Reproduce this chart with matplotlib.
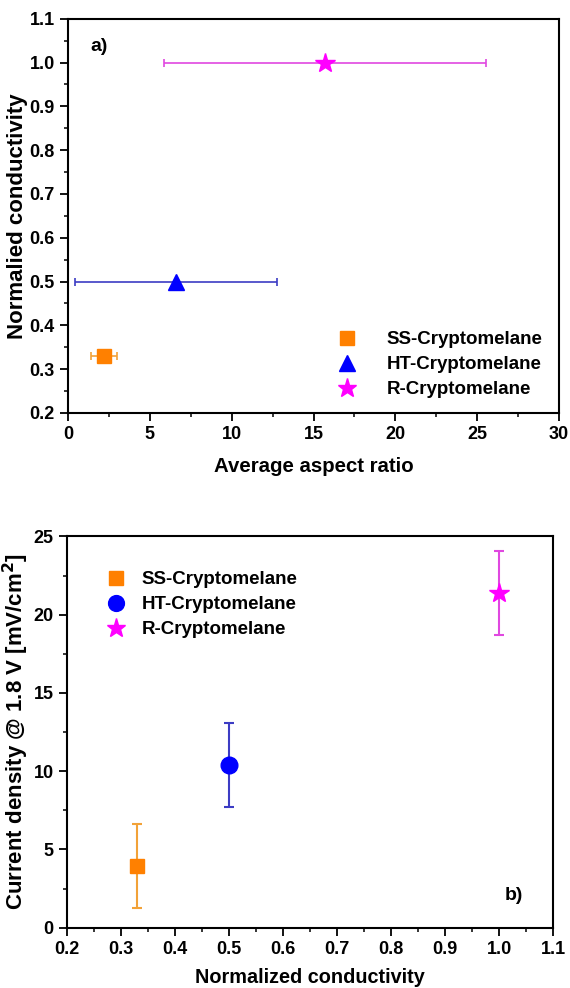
import numpy as np
import matplotlib.pyplot as plt
from matplotlib.ticker import MultipleLocator

plt.rcParams['font.family'] = ['Liberation Sans', 'DejaVu Sans']
plt.rcParams['font.weight'] = 'bold'

# --- data ---
names = ["SS-Cryptomelane", "HT-Cryptomelane", "R-Cryptomelane"]
colors = ["#FF8000", "#0000FF", "#FF00FF"]
err_colors = ["#F2A238", "#3C3CC4", "#E048E0"]

# panel a) aspect ratio vs normalised conductivity
aspect = [2.2, 6.6, 15.7]
aspect_err = [0.8, 6.15, 9.85]
cond = [0.33, 0.50, 1.00]
markers_a = ["s", "^", "*"]

# panel b) normalised conductivity vs current density
cond_b = [0.33, 0.50, 1.00]
current = [3.95, 10.4, 21.4]
current_err = [2.7, 2.7, 2.7]
markers_b = ["s", "o", "*"]

fig = plt.figure(figsize=(5.7, 9.88), dpi=100)
ax1 = fig.add_axes([0.119, 0.582, 0.862, 0.399])
ax2 = fig.add_axes([0.1175, 0.061, 0.853, 0.396])

msz = {"s": 10, "^": 12, "o": 12, "*": 15}

for i in range(3):
    ax1.errorbar(aspect[i], cond[i], xerr=aspect_err[i], fmt='none',
                 ecolor=err_colors[i], elinewidth=1.2, capsize=3, capthick=1.2)
    ax1.plot(aspect[i], cond[i], marker=markers_a[i], ls='none',
             color=colors[i], ms=msz[markers_a[i]], label=names[i])

    ax2.errorbar(cond_b[i], current[i], yerr=current_err[i], fmt='none',
                 ecolor=err_colors[i], elinewidth=1.5, capsize=3.5, capthick=1.5)
    ax2.plot(cond_b[i], current[i], marker=markers_b[i], ls='none',
             color=colors[i], ms=msz[markers_b[i]], label=names[i])

ax1.set_xlim(0, 30)
ax1.set_ylim(0.2, 1.1)
ax1.xaxis.set_major_locator(MultipleLocator(5))
ax1.xaxis.set_minor_locator(MultipleLocator(2.5))
ax1.yaxis.set_major_locator(MultipleLocator(0.1))
ax1.yaxis.set_minor_locator(MultipleLocator(0.05))
ax1.set_xlabel("Average aspect ratio", fontsize=14.7, fontweight='bold', labelpad=10)
ax1.set_ylabel("Normalied conductivity", fontsize=16, fontweight='bold')
ax1.yaxis.set_label_coords(-0.081, 0.5)
ax1.text(0.045, 0.95, "a)", transform=ax1.transAxes, fontsize=14,
         fontweight='bold', va='top')
ax1.legend(loc='lower right', bbox_to_anchor=(1.0, -0.005), frameon=False,
           fontsize=13.5, handletextpad=1.08, labelspacing=0.42, markerscale=0.95)

ax2.set_xlim(0.2, 1.1)
ax2.set_ylim(0, 25)
ax2.xaxis.set_major_locator(MultipleLocator(0.1))
ax2.xaxis.set_minor_locator(MultipleLocator(0.05))
ax2.yaxis.set_major_locator(MultipleLocator(5))
ax2.yaxis.set_minor_locator(MultipleLocator(2.5))
ax2.set_xlabel("Normalized conductivity", fontsize=14.3, fontweight='bold', labelpad=7)
ax2.set_ylabel("Current density @ 1.8 V [mV/cm$^\\mathbf{2}$]", fontsize=16,
               fontweight='bold')
ax2.yaxis.set_label_coords(-0.074, 0.5)
ax2.text(0.92, 0.07, "b)", transform=ax2.transAxes, fontsize=14,
         fontweight='bold', ha='center')
ax2.legend(loc='upper left', bbox_to_anchor=(0.028, 0.955), frameon=False,
           fontsize=13.5, handletextpad=0.35, labelspacing=0.42, markerscale=0.95)

for ax in (ax1, ax2):
    for s in ax.spines.values():
        s.set_linewidth(1.5)
    ax.tick_params(which='major', direction='out', length=6, width=1.3,
                   labelsize=13)
    ax.tick_params(which='minor', direction='out', length=3, width=1.1)
    for lab in ax.get_xticklabels() + ax.get_yticklabels():
        lab.set_fontweight('bold')

fig.savefig("out.png", dpi=100)
